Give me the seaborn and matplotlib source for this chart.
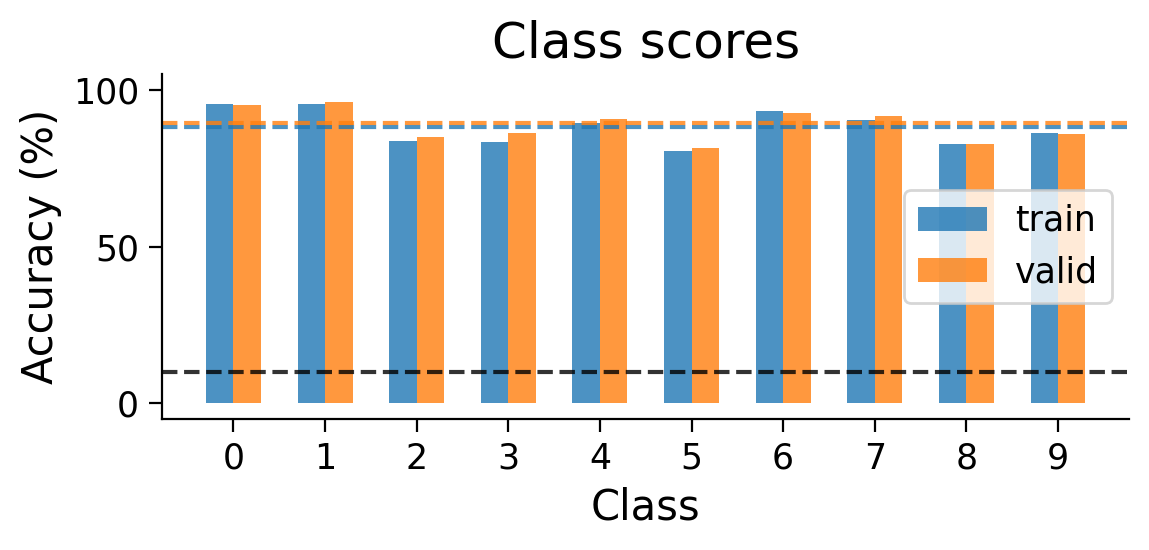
import pandas as pd
import seaborn as sns
import matplotlib
matplotlib.use("Agg")
import matplotlib.pyplot as plt

# valores
classes = list(range(10))
train_acc = [95.6, 95.6, 83.8, 83.5, 89.5, 80.6, 93.3, 90.5, 82.9, 86.3]
valid_acc = [95.2, 96.2, 85.1, 86.3, 90.8, 81.6, 92.7, 91.7, 82.9, 86.0]
train_mean = 88.3
valid_mean = 89.3
chance = 10

df = pd.DataFrame({
    "Class": classes * 2,
    "acc": train_acc + valid_acc,
    "split": ["train"] * len(classes) + ["valid"] * len(classes),
})

plt.rcParams["axes.linewidth"] = 0.8
plt.rcParams["xtick.major.size"] = 4.7
plt.rcParams["ytick.major.size"] = 4.7

fig, ax = plt.subplots(figsize=(5.745, 2.75), dpi=200)
fig.subplots_adjust(left=0.141, right=0.983, top=0.865, bottom=0.238)

sns.barplot(data=df, x="Class", y="acc", hue="split", palette=["tab:blue", "tab:orange"],
            width=0.6, alpha=0.8, saturation=1, errorbar=None, ax=ax)

ax.axhline(train_mean, color="tab:blue", ls="--", lw=1.5, alpha=0.8)
ax.axhline(valid_mean, color="tab:orange", ls="--", lw=1.5, alpha=0.8)
ax.axhline(chance, color="k", ls="--", lw=1.5, alpha=0.8)

ax.set_xlim(-0.78, 9.78)
ax.set_ylim(-5, 105)
ax.set_yticks([0, 50, 100])
ax.tick_params(labelsize=12.5)
ax.set_xlabel("Class", fontsize=15)
ax.set_ylabel("Accuracy (%)", fontsize=15)
ax.set_title("Class scores", fontsize=18)
ax.legend(loc="center right", fontsize=12.5, title=None)
sns.despine(ax=ax)

fig.savefig("out.png", dpi=200)
